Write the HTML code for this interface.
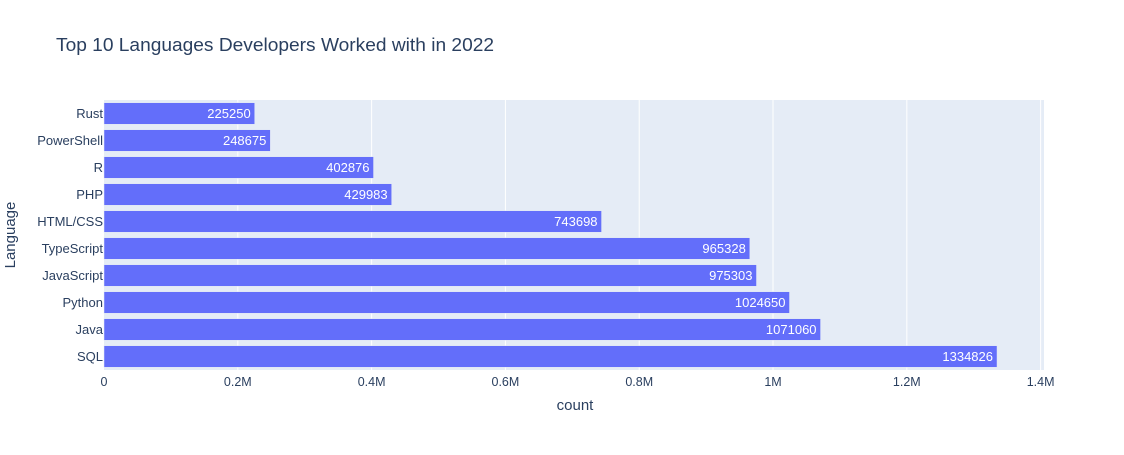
<!DOCTYPE html>
<html><head><meta charset="utf-8"><style>
body{margin:0;background:#fff;font-family:"Liberation Sans",Arial,sans-serif;}
</style></head><body>
<svg id="chart" width="1124" height="450" xmlns="http://www.w3.org/2000/svg">
<rect x="0" y="0" width="1124" height="450" fill="#fff"/>
<text x="56" y="51" font-size="18" fill="#2a3f5f" textLength="438" lengthAdjust="spacingAndGlyphs">Top 10 Languages Developers Worked with in 2022</text>
<rect x="104" y="100" width="940" height="270" fill="#e5ecf6"/>
<g id="grid"></g>
<g id="bars"></g>
<g id="xticks"></g>
<g id="yticks"></g>
<text x="575" y="410" font-size="15" fill="#2a3f5f" text-anchor="middle">count</text>
<text x="15" y="235" font-size="15" fill="#2a3f5f" text-anchor="middle" transform="rotate(-90 15 235)">Language</text>
</svg>
<script>
const categories = ["SQL","Java","Python","JavaScript","TypeScript","HTML/CSS","PHP","R","PowerShell","Rust"];
const counts = [1334826,1071060,1024650,975303,965328,743698,429983,402876,248675,225250];
const tickValues = [0,200000,400000,600000,800000,1000000,1200000,1400000];
const tickLabels = ["0","0.2M","0.4M","0.6M","0.8M","1M","1.2M","1.4M"];

const NS="http://www.w3.org/2000/svg";
const L=104,R=1044,T=100,B=370;
const xMax=Math.max(...counts)*1.0526;
const x=v=>L+v/xMax*(R-L);
const band=(B-T)/categories.length;
const yc=i=>B-band*(i+0.5);
function mk(tag,attrs,parent){const e=document.createElementNS(NS,tag);for(const k in attrs)e.setAttribute(k,attrs[k]);document.getElementById(parent).appendChild(e);return e;}

tickValues.forEach((v,i)=>{
  if(v>0){const g=mk('line',{x1:x(v),x2:x(v),y1:T,y2:B,stroke:'#fff','stroke-width':1},'grid');
  
  }
  const t=mk('text',{x:x(v),y:B+16,'font-size':12.5,fill:'#2a3f5f','text-anchor':'middle'},'xticks');
  t.textContent=tickLabels[i];
  
  
});
categories.forEach((c,i)=>{
  const h=band*0.8;
  const r=mk('rect',{x:L,y:yc(i)-h/2,width:x(counts[i])-L,height:h,fill:'#636efa',stroke:'#e5ecf6','stroke-width':0.5},'bars');
  
  
  const v=mk('text',{x:x(counts[i])-4,y:yc(i)+4.5,'font-size':13,fill:'#fff','text-anchor':'end'},'bars');
  v.textContent=counts[i];
  
  
  const t=mk('text',{x:L-1,y:yc(i)+4.5,'font-size':13,fill:'#2a3f5f','text-anchor':'end'},'yticks');
  t.textContent=c;
  
  
});
</script>
</body></html>
